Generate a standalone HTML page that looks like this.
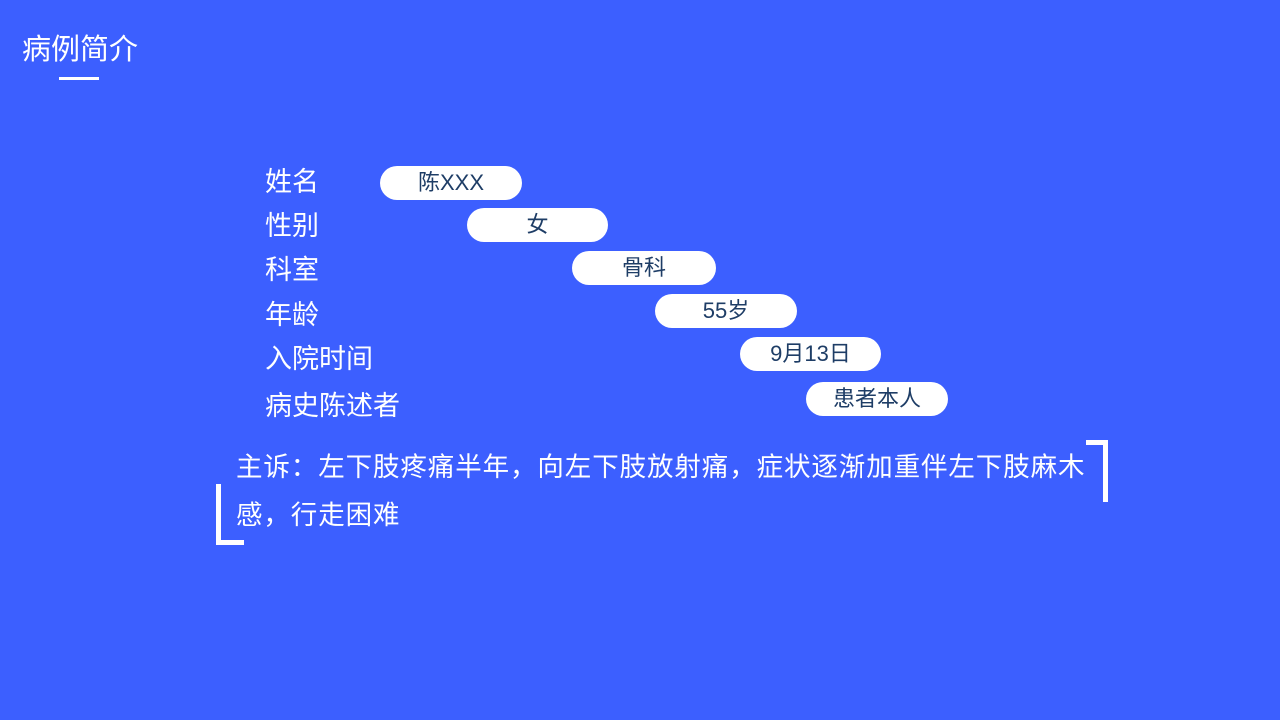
<!DOCTYPE html>
<html><head><meta charset="utf-8"><style>
body{margin:0;width:1280px;height:720px;background:#3c5fff;position:relative;overflow:hidden;font-family:"Liberation Sans","Noto Sans CJK SC",sans-serif;color:#fff}
.a{position:absolute;white-space:nowrap}
.l{font-size:27px;line-height:30px;left:265px}
.p{position:absolute;background:#fff;border-radius:17px;height:34px;width:142px;color:#1e3d66;font-size:22px;line-height:34px;text-align:center}
</style></head><body>
<div class="a" style="left:22px;top:33px;font-size:29px;line-height:34px">病例简介</div>
<div class="a" style="left:59px;top:77px;width:40px;height:3px;background:#fff"></div>
<div class="a l" style="top:167px">姓名</div>
<div class="a l" style="top:211px">性别</div>
<div class="a l" style="top:255px">科室</div>
<div class="a l" style="top:300px">年龄</div>
<div class="a l" style="top:344px">入院时间</div>
<div class="a l" style="top:391px">病史陈述者</div>
<div class="p" style="left:380px;top:166px">陈XXX</div>
<div class="p" style="left:467px;top:208px;width:141px">女</div>
<div class="p" style="left:572px;top:251px;width:144px">骨科</div>
<div class="p" style="left:655px;top:294px">55岁</div>
<div class="p" style="left:740px;top:337px;width:141px">9月13日</div>
<div class="p" style="left:806px;top:382px">患者本人</div>
<div class="a" style="left:236px;top:443px;font-size:26.5px;letter-spacing:0.9px;line-height:48px">主诉：左下肢疼痛半年，向左下肢放射痛，症状逐渐加重伴左下肢麻木<br>感，行走困难</div>
<div class="a" style="left:1086px;top:440px;width:17px;height:57px;border-top:5px solid #fff;border-right:5px solid #fff"></div>
<div class="a" style="left:216px;top:484px;width:23px;height:56px;border-bottom:5px solid #fff;border-left:5px solid #fff"></div>
</body></html>
